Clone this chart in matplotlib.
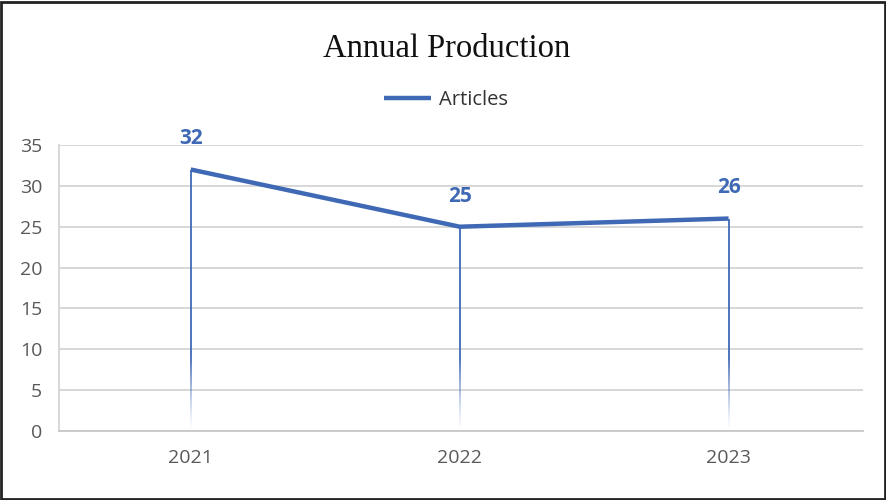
import matplotlib.pyplot as plt
import numpy as np
from matplotlib.collections import LineCollection
from matplotlib.patches import Rectangle

# data
years = ["2021", "2022", "2023"]
articles = [32, 25, 26]
y_ticks = [0, 5, 10, 15, 20, 25, 30, 35]

blue = "#3f69b5"
x = np.arange(len(years))

fig = plt.figure(figsize=(8.87, 5.0), dpi=100)
ax = fig.add_axes([0.0665, 0.138, 0.9065, 0.572])

# main line
ax.plot(x, articles, color=blue, linewidth=3.2, solid_capstyle="butt",
        solid_joinstyle="miter", zorder=4, label="Articles")

# drop lines fading out towards the axis
for xi, yi in zip(x, articles):
    ys = np.linspace(0, yi, 120)
    segs = [[(xi, ys[k]), (xi, ys[k + 1])] for k in range(len(ys) - 1)]
    mid = (ys[:-1] + ys[1:]) / 2
    alphas = np.clip(mid / 9.0, 0, 1) ** 1.3
    cols = [(0.247, 0.412, 0.71, a) for a in alphas]
    ax.add_collection(LineCollection(segs, colors=cols, linewidths=1.3, zorder=3))

# value labels
for xi, yi in zip(x, articles):
    ax.annotate(str(yi), xy=(xi, yi), xytext=(0, 22), textcoords="offset points",
                ha="center", va="center", fontsize=15, fontweight="bold",
                color=blue, family="Open Sans")

ax.set_xlim(-0.49, 2.5)
ax.set_ylim(0, 35)
ax.set_xticks(x)
ax.set_xticklabels(years)
ax.set_yticks(y_ticks)
ax.tick_params(axis="both", length=0, labelsize=14, labelcolor="#595959")
ax.tick_params(axis="x", pad=13)
ax.tick_params(axis="y", pad=12)
for lab in ax.get_xticklabels() + ax.get_yticklabels():
    lab.set_family("Open Sans")

ax.yaxis.grid(True, color="#d4d4d4", linewidth=1.3)
ax.set_axisbelow(True)
for side in ["top", "right"]:
    ax.spines[side].set_visible(False)
ax.spines["left"].set_color("#d4d4d4")
ax.spines["left"].set_linewidth(1.3)
ax.spines["bottom"].set_color("#c8c8c8")
ax.spines["bottom"].set_linewidth(1.3)

# title and legend
fig.text(0.503, 0.902, "Annual Production", ha="center", va="center",
         fontsize=23.5, family="Liberation Serif", color="#111111")
leg = fig.legend(loc="center", bbox_to_anchor=(0.503, 0.8), frameon=False,
                 handlelength=2.3, handletextpad=0.4,
                 prop={"family": "Open Sans", "size": 14.5})
for t in leg.get_texts():
    t.set_color("#333333")

# outer frame
fig.patches.append(Rectangle((0.001, 0.002), 0.997, 0.995, transform=fig.transFigure,
                             fill=False, edgecolor="#222222", linewidth=2))

fig.savefig("out.png", dpi=100, facecolor="white")
